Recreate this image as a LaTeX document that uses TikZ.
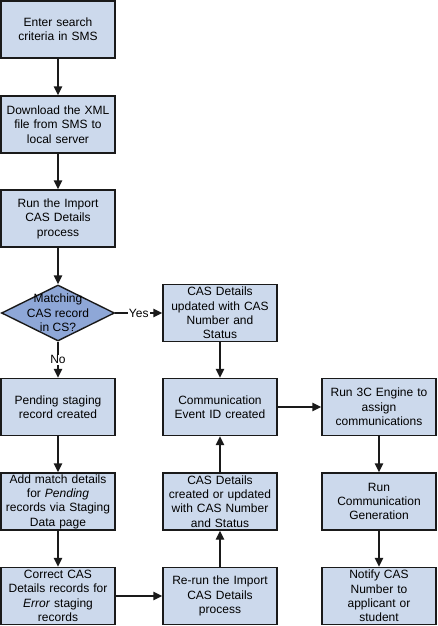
\documentclass[tikz,border=0pt]{standalone}
\usepackage{fontspec}
\setmainfont{Liberation Sans}
\usetikzlibrary{shapes.geometric,arrows.meta}
\definecolor{boxfill}{HTML}{CCD9EC}
\definecolor{diafill}{HTML}{8EA7D7}
\definecolor{edge}{HTML}{1A1A1A}
\tikzset{
  stepbox/.style={draw=edge, line width=1.4pt, fill=boxfill, rectangle,
    minimum width=114pt, minimum height=57pt, inner sep=0pt,
    text width=113pt, align=center, font=\fontsize{12}{14.4}\selectfont},
  decision/.style={draw=edge, line width=1.4pt, fill=diafill, diamond,
    minimum width=113pt, minimum height=56pt, inner sep=0pt},
  conn/.style={draw=edge, line width=1.4pt, -{Triangle[length=9pt,width=8.5pt]}},
  lbl/.style={fill=white, inner sep=1pt, font=\fontsize{12}{14.4}\selectfont}
}
\begin{document}
\begin{tikzpicture}[x=1pt,y=-1pt]
\useasboundingbox (0,0) rectangle (437,626);
\node[stepbox] (b1) at (58,29.5) {Enter search\\criteria in SMS};
\node[stepbox] (b2) at (58,124.5) {Download the XML\\file from SMS to\\local server};
\node[stepbox] (b3) at (58,218.5) {Run the Import\\CAS Details\\process};
\node[decision, label={[align=center, font=\fontsize{12}{14.4}\selectfont]center:Matching\\CAS record\\in CS?}] (d) at (58,313) {};
\node[stepbox] (b4) at (58,407) {Pending staging\\record created};
\node[stepbox] (b5) at (58,501.5) {Add match details\\for \textit{Pending}\\records via Staging\\Data page};
\node[stepbox] (b6) at (58,596) {Correct CAS\\Details records for\\\textit{Error} staging\\records};
\node[stepbox] (c1) at (220,313) {CAS Details\\updated with CAS\\Number and\\Status};
\node[stepbox] (c2) at (220,407) {Communication\\Event ID created};
\node[stepbox] (c3) at (220,501.5) {CAS Details\\created or updated\\with CAS Number\\and Status};
\node[stepbox] (c4) at (220,596) {Re-run the Import\\CAS Details\\process};
\node[stepbox] (r1) at (379,407) {Run 3C Engine to\\assign\\communications};
\node[stepbox] (r2) at (379,501.5) {Run\\Communication\\Generation};
\node[stepbox] (r3) at (379,596) {Notify CAS\\Number to\\applicant or\\student};
\draw[conn] (b1) -- (b2);
\draw[conn] (b2) -- (b3);
\draw[conn] (b3) -- (d);
\draw[conn] (d) -- node[lbl] {No} (b4);
\draw[conn] (d) -- node[lbl] {Yes} (c1);
\draw[conn] (b4) -- (b5);
\draw[conn] (b5) -- (b6);
\draw[conn] (b6) -- (c4);
\draw[conn] (c4) -- (c3);
\draw[conn] (c3) -- (c2);
\draw[conn] (c1) -- (c2);
\draw[conn] (c2) -- (r1);
\draw[conn] (r1) -- (r2);
\draw[conn] (r2) -- (r3);
\end{tikzpicture}
\end{document}
